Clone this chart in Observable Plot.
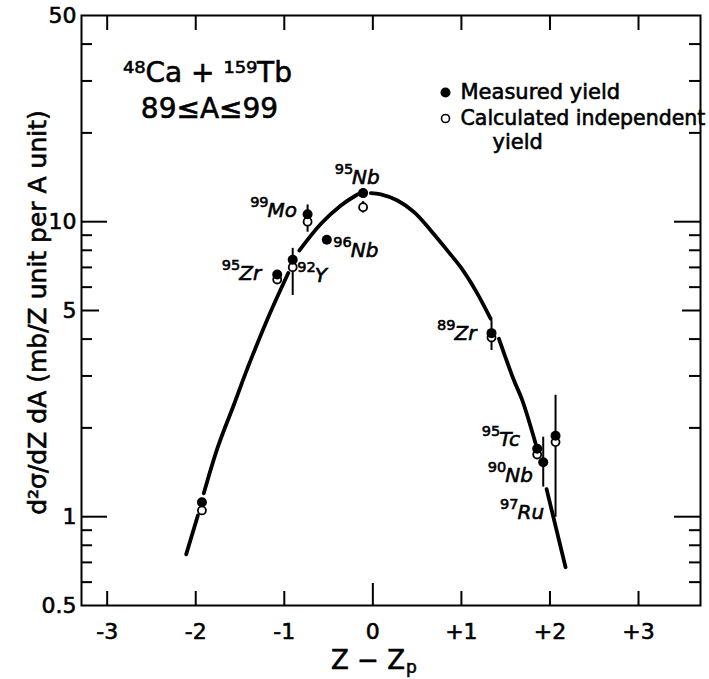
<!DOCTYPE html>
<html><head><meta charset="utf-8">
<script src="https://cdn.jsdelivr.net/npm/d3@7"></script>
<script src="https://cdn.jsdelivr.net/npm/@observablehq/plot@0.6"></script>
<style>body{margin:0;background:#fff} svg{display:block} svg text{stroke:#000;stroke-width:0.6px;paint-order:stroke}</style>
</head><body><div id="chart"></div>
<script>
// ---- data ----
const pointX      = [-1.93, -1.08, -0.905, -0.737, -0.52, -0.11, 1.34, 1.856, 1.924, 2.063];
const measured    = [1.12, 6.62, 7.43, 10.6, 8.68, 12.5, 4.19, 1.70, 1.53, 1.88];
const calculated  = [1.05, 6.37, 7.01, 10.0, null, 11.2, 4.05, 1.625, null, 1.79];
const errLow      = [null, null, 5.62, 9.21, null, 10.7, 3.66, null, 1.26, 0.996];
const errHigh     = [null, null, 8.12, 11.4, null, 11.7, 4.62, null, 1.86, 2.58];
const massNumber  = [null, 95, 92, 99, 96, 95, 89, 95, 90, 97];
const element     = ["", "Zr", "Y", "Mo", "Nb", "Nb", "Zr", "Tc", "Nb", "Ru"];

const curveSeg = [1,1, 2,2,2,2,2,2, 3,3,3,3,3, 4,4,4,4,4,4,4,4,4, 5,5,5,5, 6,6];
const curveX = [-2.108,-1.976, -1.909,-1.751,-1.564,-1.413,-1.187,-0.955,
                -0.831,-0.586,-0.361,-0.192,-0.154,
                -0.023,0.090,0.278,0.466,0.654,0.842,0.992,1.161,1.330,
                1.424,1.593,1.688,1.838, 1.962,2.176];
const curveY = [0.745,1.01, 1.20,1.72,2.42,3.20,4.70,6.70,
                7.98,9.84,11.35,12.27,12.43,
                12.49,12.37,11.80,10.77,9.34,7.98,7.01,5.84,4.69,
                4.01,2.90,2.48,1.77, 1.24,0.674];

const xTicks = [-3, -2, -1, 0, 1, 2, 3];
const yTickLabels = [0.5, 1, 5, 10, 50];
const yMinorTicks = [0.6, 0.7, 0.8, 0.9, 2, 3, 4, 6, 7, 8, 9, 20, 30, 40];
const yMidTicks = [5];
const yMajorTicks = [1, 10];

// label placement (pixel offsets from the measured point)
const labelDx = [0, -38, 22, -40, 24, -11, -37, -38, -38, -38];
const labelDy = [0, 5, 22, 3, 17, -9, 7, -3, 20, 83];

// ---- layout ----
const W = 709, H = 679, mL = 81, mR = 9, mT = 15, mB = 74;
const fw = W - mL - mR, fh = H - mT - mB;
const FONT = "DejaVu Sans";

const points = pointX.map((x, i) => ({x, m: measured[i], c: calculated[i], lo: errLow[i], hi: errHigh[i], mass: massNumber[i], el: element[i], i}));
const curve = curveX.map((x, i) => ({x, y: curveY[i], s: curveSeg[i]}));

const labelMarks = points.filter(p => p.mass != null).flatMap(p => [
  Plot.text([p], {x: "x", y: "m", text: d => d.el, textAnchor: "start", dx: labelDx[p.i], dy: labelDy[p.i] - 6.4, fontSize: 20, fontStyle: "italic", fill: "black"}),
  Plot.text([p], {x: "x", y: "m", text: d => String(d.mass), textAnchor: "end", dx: labelDx[p.i] + 1, dy: labelDy[p.i] - 14.5, fontSize: 14.5, fill: "black"})
]);

const chart = Plot.plot({
  width: W, height: H,
  marginLeft: mL, marginRight: mR, marginTop: mT, marginBottom: mB,
  style: {fontFamily: FONT, fontSize: "22px", color: "black", background: "white"},
  x: {domain: [-3.29, 3.70], ticks: xTicks, tickSize: 0, tickPadding: 18,
      tickFormat: d => d > 0 ? `+${d}` : `${d}`, label: null},
  y: {type: "log", domain: [0.5, 50], ticks: yTickLabels, tickSize: 0, tickPadding: 5,
      tickFormat: d => String(d), label: null},
  marks: [
    // inward ticks
    Plot.ruleX(xTicks.filter(d => d !== 0), {x: d => d, insetTop: fh - 14, stroke: "black", strokeWidth: 2}),
    Plot.ruleX([0], {x: d => d, insetTop: fh - 22, stroke: "black", strokeWidth: 2}),
    Plot.ruleX(xTicks, {x: d => d, insetBottom: fh - 15, stroke: "black", strokeWidth: 2}),
    Plot.ruleY(yMinorTicks, {y: d => d, insetRight: fw - 11, stroke: "black", strokeWidth: 2}),
    Plot.ruleY(yMidTicks, {y: d => d, insetRight: fw - 18, stroke: "black", strokeWidth: 2}),
    Plot.ruleY(yMajorTicks, {y: d => d, insetRight: fw - 26, stroke: "black", strokeWidth: 2}),
    Plot.ruleY(yMinorTicks, {y: d => d, insetLeft: fw - 11, stroke: "black", strokeWidth: 2}),
    Plot.ruleY(yMidTicks, {y: d => d, insetLeft: fw - 18, stroke: "black", strokeWidth: 2}),
    Plot.ruleY(yMajorTicks, {y: d => d, insetLeft: fw - 26, stroke: "black", strokeWidth: 2}),
    Plot.frame({stroke: "black", strokeWidth: 2}),
    // fitted curve
    Plot.line(curve, {x: "x", y: "y", z: "s", curve: "catmull-rom", stroke: "black", strokeWidth: 3.8, strokeLinecap: "round"}),
    // error bars
    Plot.ruleX(points.filter(p => p.lo != null), {x: "x", y1: "lo", y2: "hi", stroke: "black", strokeWidth: 2}),
    // calculated (open) and measured (filled)
    Plot.dot(points.filter(p => p.c != null), {x: "x", y: "c", r: 4, fill: "white", stroke: "black", strokeWidth: 1.8}),
    Plot.dot(points, {x: "x", y: "m", r: 5, fill: "black"}),
    ...labelMarks,
    // reaction text
    Plot.text(["⁴⁸Ca + ¹⁵⁹Tb"], {frameAnchor: "top-left", textAnchor: "middle", lineAnchor: "middle", dx: 126, dy: 58, fontSize: 28, fill: "black"}),
    Plot.text(["89≤A≤99"], {frameAnchor: "top-left", textAnchor: "middle", lineAnchor: "middle", dx: 128, dy: 94, fontSize: 28, fill: "black"}),
    // legend
    Plot.dot([0], {frameAnchor: "top-left", dx: 364, dy: 77, r: 5, fill: "black"}),
    Plot.dot([0], {frameAnchor: "top-left", dx: 364, dy: 103, r: 4, fill: "white", stroke: "black", strokeWidth: 1.6}),
    Plot.text(["Measured yield"], {frameAnchor: "top-left", textAnchor: "start", lineAnchor: "middle", dx: 379, dy: 77, fontSize: 21, fill: "black"}),
    Plot.text(["Calculated independent"], {frameAnchor: "top-left", textAnchor: "start", lineAnchor: "middle", dx: 379, dy: 103, fontSize: 20.5, fill: "black"}),
    Plot.text(["yield"], {frameAnchor: "top-left", textAnchor: "start", lineAnchor: "middle", dx: 411, dy: 127, fontSize: 21, fill: "black"}),
    // axis titles
    Plot.text(["Z − Z"], {frameAnchor: "bottom", textAnchor: "start", lineAnchor: "middle", dx: -60, dy: 55, fontSize: 26, fill: "black"}),
    Plot.text(["p"], {frameAnchor: "bottom", textAnchor: "start", lineAnchor: "middle", dx: 15, dy: 62, fontSize: 17, fill: "black"}),
    Plot.text(["d²σ/dZ dA (mb/Z unit per A unit)"], {frameAnchor: "left", textAnchor: "middle", lineAnchor: "middle", rotate: -90, dx: -44, dy: 2, fontSize: 25, fill: "black"})
  ]
});
document.getElementById("chart").appendChild(chart);
</script>
</body></html>
